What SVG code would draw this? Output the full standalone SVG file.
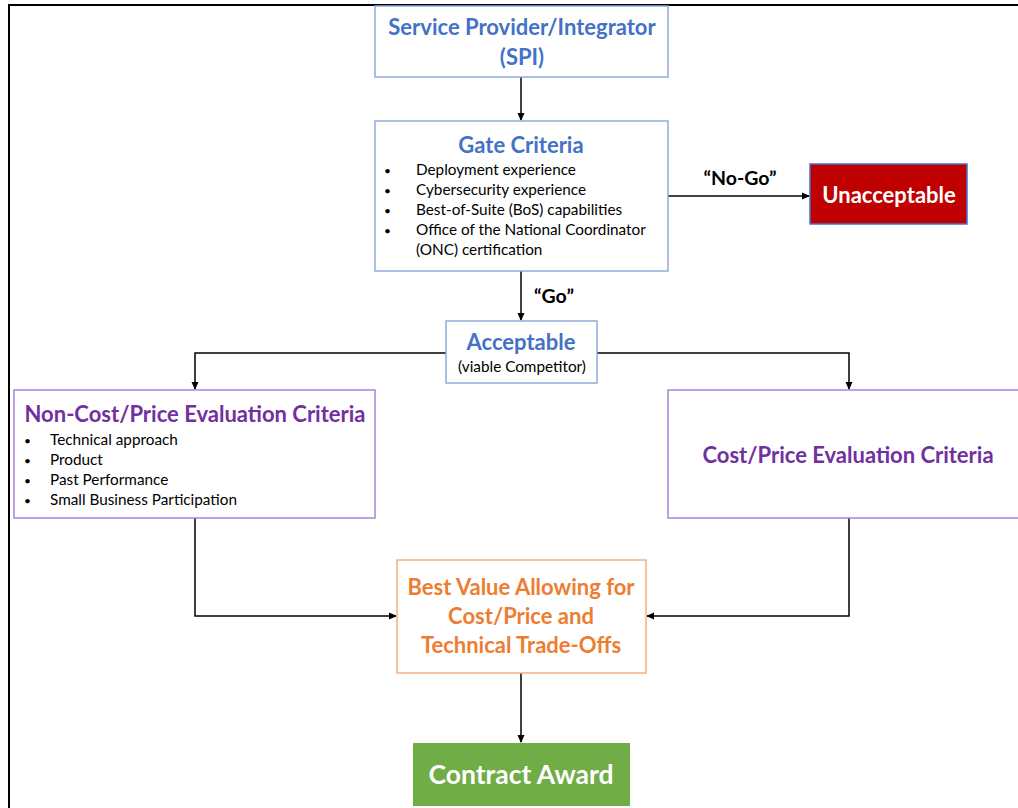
<svg xmlns="http://www.w3.org/2000/svg" width="1018" height="808" viewBox="0 0 1018 808">
<defs>
<marker id="ah" markerWidth="8" markerHeight="8" refX="7" refY="4" orient="auto" markerUnits="userSpaceOnUse">
<path d="M0,0.5 L8,4 L0,7.5 Z" fill="#000"/>
</marker>
<style>
text{font-family:Lato,"Open Sans","Liberation Sans",sans-serif}
.t{font-weight:bold;font-size:22px;text-anchor:middle}
.blue{fill:#4472C4}
.purple{fill:#7030A0}
.orange{fill:#ED7D31}
.wh{fill:#fff}
.b{font-size:15.3px;fill:#000}
.dot{font-size:12px}
.lbl{font-weight:bold;font-size:19.5px;fill:#000}
.bbox{fill:#fff;stroke:#8FAADC;stroke-width:1.5}
.pbox{fill:#fff;stroke:#A885D8;stroke-width:1.5}
.conn{fill:none;stroke:#000;stroke-width:1.5}
</style>
</defs>
<rect width="1018" height="808" fill="#fff"/>
<path d="M9,808 V5 H1018" fill="none" stroke="#000" stroke-width="2"/>
<g id="connectors">
<path class="conn" d="M521,77 V120" marker-end="url(#ah)"/>
<path class="conn" d="M668,196 H809" marker-end="url(#ah)"/>
<path class="conn" d="M521,271 V320" marker-end="url(#ah)"/>
<path class="conn" d="M446,353 H195 V389" marker-end="url(#ah)"/>
<path class="conn" d="M597,353 H849 V389" marker-end="url(#ah)"/>
<path class="conn" d="M195,518 V616 H396" marker-end="url(#ah)"/>
<path class="conn" d="M849,518 V616 H647" marker-end="url(#ah)"/>
<path class="conn" d="M521,673 V742" marker-end="url(#ah)"/>
<text class="lbl" x="740" y="185" text-anchor="middle">“No-Go”</text>
<text class="lbl" x="554" y="303" text-anchor="middle">“Go”</text>
</g>
<g id="spi">
<rect class="bbox" x="375" y="6" width="293" height="71"/>
<text class="t blue" x="522" y="35">Service Provider/Integrator</text>
<text class="t blue" x="522" y="65">(SPI)</text>
</g>
<g id="gate">
<rect class="bbox" x="375" y="121" width="293" height="150"/>
<text class="t blue" x="521" y="153">Gate Criteria</text>
<g class="b">
<text class="dot" x="384" y="175">•</text><text x="416" y="175">Deployment experience</text>
<text class="dot" x="384" y="195">•</text><text x="416" y="195">Cybersecurity experience</text>
<text class="dot" x="384" y="215">•</text><text x="416" y="215">Best-of-Suite (BoS) capabilities</text>
<text class="dot" x="384" y="235">•</text><text x="416" y="235">Office of the National Coordinator</text>
<text x="416" y="255">(ONC) certification</text>
</g>
</g>
<g id="unacceptable">
<rect x="810" y="164" width="157" height="60" fill="#C00000" stroke="#4472C4" stroke-width="1.5"/>
<text class="t wh" x="889" y="203">Unacceptable</text>
</g>
<g id="acceptable">
<rect class="bbox" x="446" y="321" width="151" height="62"/>
<text class="t blue" x="521" y="350">Acceptable</text>
<text class="b" x="522" y="372" text-anchor="middle">(viable Competitor)</text>
</g>
<g id="noncost">
<rect class="pbox" x="14" y="390" width="361" height="128"/>
<text class="t purple" x="195" y="422">Non-Cost/Price Evaluation Criteria</text>
<g class="b">
<text class="dot" x="24" y="445">•</text><text x="50" y="445">Technical approach</text>
<text class="dot" x="24" y="465">•</text><text x="50" y="465">Product</text>
<text class="dot" x="24" y="485">•</text><text x="50" y="485">Past Performance</text>
<text class="dot" x="24" y="505">•</text><text x="50" y="505">Small Business Participation</text>
</g>
</g>
<g id="cost">
<rect class="pbox" x="668" y="390" width="360" height="128"/>
<text class="t purple" x="848" y="463">Cost/Price Evaluation Criteria</text>
</g>
<g id="bestvalue">
<rect x="397" y="560" width="249" height="113" fill="#fff" stroke="#F4B183" stroke-width="1.5"/>
<text class="t orange" x="521" y="595">Best Value Allowing for</text>
<text class="t orange" x="521" y="624">Cost/Price and</text>
<text class="t orange" x="521" y="653">Technical Trade-Offs</text>
</g>
<g id="award">
<rect x="413" y="743" width="217" height="63" fill="#70AD47"/>
<text class="wh" x="521" y="784" text-anchor="middle" font-weight="bold" font-size="26.5">Contract Award</text>
</g>
</svg>
